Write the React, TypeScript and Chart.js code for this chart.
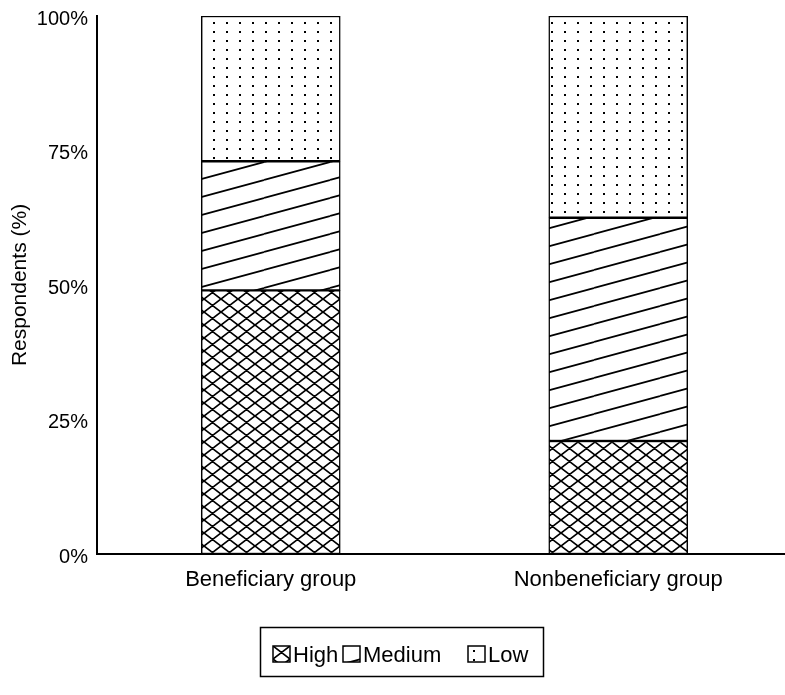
import React, { useEffect, useRef } from "react";
import { Chart, registerables } from "chart.js";

Chart.register(...registerables);

const categories = ["Beneficiary group", "Nonbeneficiary group"];
const seriesNames = ["High", "Medium", "Low"];
const highValues = [49, 21];
const mediumValues = [24, 41.5];
const lowValues = [27, 37.5];
const yTickValues = [0, 25, 50, 75, 100];

const FONT = "'Liberation Sans', Arial, sans-serif";

function makeTile(w: number, h: number, draw: (c: CanvasRenderingContext2D) => void) {
  const cv = document.createElement("canvas");
  cv.width = w;
  cv.height = h;
  const c = cv.getContext("2d")!;
  c.fillStyle = "#ffffff";
  c.fillRect(0, 0, w, h);
  draw(c);
  return cv;
}

function makePatterns(ctx: CanvasRenderingContext2D) {
  const cross = makeTile(17, 13, (c) => {
    c.strokeStyle = "#000";
    c.lineWidth = 1.7;
    c.beginPath();
    for (const dx of [-17, 0, 17]) {
      for (const dy of [-13, 0, 13]) {
        c.moveTo(dx, dy);
        c.lineTo(dx + 17, dy + 13);
        c.moveTo(dx, dy + 13);
        c.lineTo(dx + 17, dy);
      }
    }
    c.stroke();
  });
  const diag = makeTile(66, 18, (c) => {
    c.strokeStyle = "#000";
    c.lineWidth = 1.7;
    c.beginPath();
    for (const k of [-1, 0, 1]) {
      c.moveTo(0, 18 + k * 18);
      c.lineTo(66, k * 18);
    }
    c.stroke();
  });
  const dots = makeTile(13, 9, (c) => {
    c.fillStyle = "#000";
    c.fillRect(5, 4, 2, 2);
  });
  return [
    ctx.createPattern(cross, "repeat")!,
    ctx.createPattern(diag, "repeat")!,
    ctx.createPattern(dots, "repeat")!,
  ];
}

export default function App() {
  const ref = useRef<HTMLCanvasElement>(null);

  useEffect(() => {
    const canvas = ref.current!;
    const ctx = canvas.getContext("2d")!;
    const patterns = makePatterns(ctx);
    const values = [highValues, mediumValues, lowValues];
    const legendIconX = [273, 343, 468];

    const legendPlugin = {
      id: "boxLegend",
      afterDraw(chart: any) {
        const c: CanvasRenderingContext2D = chart.ctx;
        c.save();
        c.strokeStyle = "#000";
        c.lineWidth = 1.5;
        c.strokeRect(260.5, 627.5, 283, 49);
        c.font = `22px ${FONT}`;
        c.fillStyle = "#000";
        c.textBaseline = "alphabetic";
        const iconY = 646;
        seriesNames.forEach((name, i) => {
          const x = legendIconX[i];
          c.save();
          c.translate(x, iconY);
          c.fillStyle = patterns[i];
          c.fillRect(0, 0, 17, 16);
          c.lineWidth = 1.5;
          c.strokeStyle = "#000";
          c.strokeRect(0, 0, 17, 16);
          c.restore();
          c.fillStyle = "#000";
          c.fillText(name, x + 20, 662);
        });
        c.restore();
      },
    };

    const chart = new Chart(canvas, {
      type: "bar",
      data: {
        labels: categories,
        datasets: seriesNames.map((name, i) => ({
          label: name,
          data: values[i],
          backgroundColor: patterns[i],
          borderColor: "#000",
          borderWidth: 1.5,
          borderSkipped: false,
          barThickness: 139,
        })),
      },
      options: {
        responsive: false,
        animation: false,
        devicePixelRatio: 1,
        layout: { padding: { top: 16, right: 0, bottom: 101, left: 0 } },
        plugins: {
          legend: { display: false },
          tooltip: { enabled: false },
        },
        scales: {
          x: {
            stacked: true,
            grid: { display: false, drawTicks: false },
            border: { display: true, color: "#000", width: 2 },
            ticks: {
              color: "#000",
              font: { family: FONT, size: 22 },
              padding: 13,
            },
            afterFit: (s: any) => {
              s.height = 40;
            },
          },
          y: {
            stacked: true,
            min: 0,
            max: 100,
            afterBuildTicks: (s: any) => {
              s.ticks = yTickValues.map((v) => ({ value: v }));
            },
            grid: { display: false, drawTicks: false },
            border: { display: true, color: "#000", width: 2 },
            ticks: {
              color: "#000",
              font: { family: FONT, size: 20 },
              padding: 9,
              labelOffset: 3,
              callback: (v: any) => `${v}%`,
            },
            title: {
              display: true,
              text: "Respondents (%)",
              color: "#000",
              font: { family: FONT, size: 21 },
              padding: { top: 8, bottom: 0 },
            },
            afterFit: (s: any) => {
              s.width = 97;
              s.paddingTop = 0;
              s.paddingBottom = 0;
            },
          },
        },
      },
      plugins: [legendPlugin],
    });
    return () => chart.destroy();
  }, []);

  return (
    <div
      style={{
        position: "fixed",
        left: 0,
        top: 0,
        width: 785,
        height: 695,
        overflow: "hidden",
        background: "#fff",
      }}
    >
      <canvas ref={ref} width={792} height={695} style={{ display: "block" }} />
    </div>
  );
}
